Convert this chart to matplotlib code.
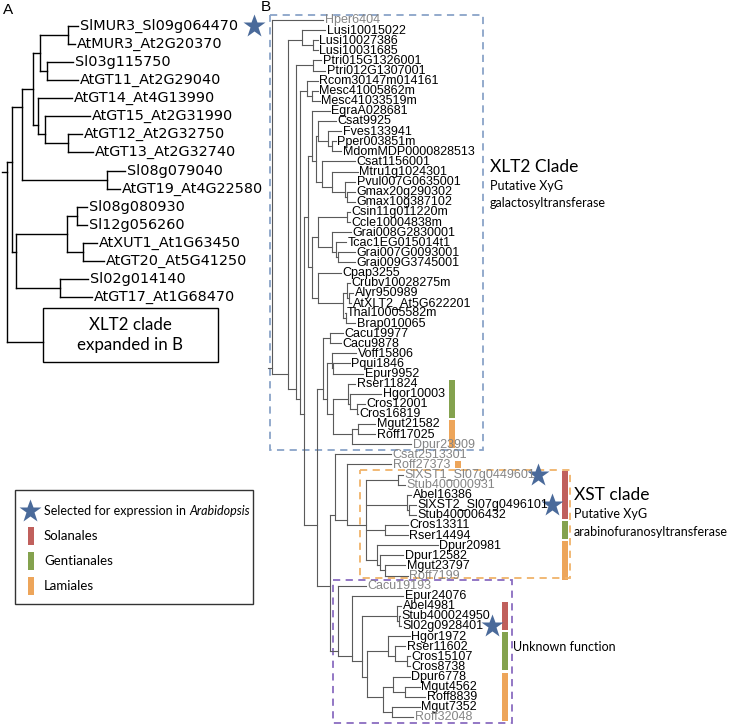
import re
import matplotlib.pyplot as plt
from matplotlib.patches import Rectangle

# ---- panel A tree (number after ':' = node depth in px from the left) ----
tree_a = ("((((((SlMUR3_Sl09g064470:78,AtMUR3_At2G20370:75):68,"
          "(Sl03g115750:73,AtGT11_At2G29040:78):47):40,"
          "(AtGT14_At4G13990:72,(AtGT15_At2G31990:90,"
          "(AtGT12_At2G32750:82,AtGT13_At2G32740:93):68):45):38):33,"
          "(Sl08g079040:125,AtGT19_At4G22580:120):107):22,"
          "(((Sl08g080930:87,Sl12g056260:87):77,"
          "(AtXUT1_At1G63450:97,AtGT20_At5G41250:104):83):67,"
          "(Sl02g014140:88,AtGT17_At1G68470:92):60):16):12,"
          "BOX:43):7")

# ---- panel B tree, built clade by clade ----
b_lusi = "(Lusi10015022:325,(Lusi10027386:318,Lusi10031685:318):313):302"
b_ptri = "(Ptri015G1326001:321,Ptri012G1307001:325):313"
b_rm = "(Rcom30147m014161:318,(Mesc41005862m:318,Mesc41033519m:320):312):307"
b_cr = "(Csat9925:336,(Fves133941:341,(Pper003851m:336,MdomMDP0000828513:341):332):328):318"
b_fb = ("(Csat1156001:355,(Mtru1g1024301:358,(Pvul007G0635001:355,"
        "(Gmax20g290302:355,Gmax10g387102:355):347):345):332):322")
b_malv = ("((Csin11g011220m:350,Ccle10004838m:350):347,(Grai008G2830001:351,"
          "(Tcac1EG015014t1:346,(Grai007G0093001:355,Grai009G3745001:355):338):336):332):318")
b_bras = ("(Cpap3255:341,((Crubv10028275m:350,(Alyr950989:353,AtXLT2_At5G622201:351):349):347,"
          "(Thal10005582m:345,Brap010065:355):346):343):318")
b_ast = ("((Cacu19977:343,Cacu9878:341):330,((Voff15806:356,(Pqui1846:350,Epur9952:363):333):332,"
         "((Rser11824:355,(Hgor10003:381,(Cros12001:365,Cros16819:358):357):350):348,"
         "((Mgut21582:375,Roff17025:375):358,Dpur23909:411):352):333):327):323")
b_xst = ("(Csat2513301:391,(Roff27373:391,((SlXST1_Sl07g0449601:403,Stub400000931:405):398,"
         "(Abel16386:411,(SlXST2_Sl07g0496101:416,Stub400006432:416):409):407,"
         "(Cros13311:408,Rser14494:408):385,"
         "(Dpur20981:438,(Dpur12582:403,(Mgut23797:405,Roff7199:408):385):380):377):366):347):335")
b_unk = ("(Cacu19193:366,(Epur24076:403,((Abel4981:401,(Stub400024950:400,Sl02g0928401:401):399):397,"
         "((Hgor1972:410,(Rser11602:405,(Cros15107:410,Cros8738:410):407):395):388,"
         "((Dpur6778:410,(Mgut4562:420,Roff8839:425):405):393,(Mgut7352:420,Roff32048:413):392):383):367):362):352):338")
tree_b = (f"(Hper6404:323,({b_lusi},({b_ptri},({b_rm},(((EgraA028681:330,({b_cr},{b_fb}):316):312,"
          f"({b_malv},{b_bras}):312):308,({b_ast},({b_xst},{b_unk}):330):317):304):300):296):288):272")

grey_b = ["Hper6404", "Dpur23909", "Csat2513301", "Roff27373", "SlXST1_Sl07g0449601",
          "Stub400000931", "Roff7199", "Cacu19193", "Roff32048"]

# order bars: (first leaf, last leaf, order, x)
bars_b = [("Rser11824", "Cros16819", "Gentianales", 449),
          ("Mgut21582", "Dpur23909", "Lamiales", 449),
          ("SlXST1_Sl07g0449601", "Stub400006432", "Solanales", 562),
          ("Cros13311", "Rser14494", "Gentianales", 562),
          ("Dpur20981", "Roff7199", "Lamiales", 562),
          ("Abel4981", "Sl02g0928401", "Solanales", 502),
          ("Hgor1972", "Cros8738", "Gentianales", 502),
          ("Dpur6778", "Roff32048", "Lamiales", 502)]
order_colors = {"Solanales": "#c0605c", "Gentianales": "#84a24e", "Lamiales": "#eda55a"}

# stars: (leaf, x)
stars_a = [("SlMUR3_Sl09g064470", 254)]
stars_b = [("SlXST1_Sl07g0449601", 538), ("SlXST2_Sl07g0496101", 552), ("Sl02g0928401", 492)]
star_color = "#4a6a9a"


def parse(s):
    pos = 0

    def node():
        nonlocal pos
        kids = []
        if s[pos] == "(":
            pos += 1
            kids.append(node())
            while s[pos] == ",":
                pos += 1
                kids.append(node())
            pos += 1
        m = re.match(r"([^:,()]*)(?::([\d.]+))?", s[pos:])
        pos += m.end()
        return {"name": m.group(1), "x": float(m.group(2) or 0), "kids": kids}

    return node()


def layout(nd, rows, it):
    if not nd["kids"]:
        nd["y"] = rows[next(it)]
        nd["n"], nd["s"] = 1, nd["y"]
    else:
        for k in nd["kids"]:
            layout(k, rows, it)
        nd["n"] = sum(k["n"] for k in nd["kids"])
        nd["s"] = sum(k["s"] for k in nd["kids"])
        nd["y"] = nd["s"] / nd["n"]


def draw(ax, nd, leaves, **kw):
    if not nd["kids"]:
        leaves[nd["name"]] = nd
        return
    ys = [k["y"] for k in nd["kids"]]
    ax.plot([nd["x"]] * 2, [min(ys), max(ys)], **kw)
    for k in nd["kids"]:
        ax.plot([nd["x"], k["x"]], [k["y"]] * 2, **kw)
        draw(ax, k, leaves, **kw)


fig = plt.figure(figsize=(7.3, 7.26), dpi=100)
ax = fig.add_axes([0, 0, 1, 1])
ax.set_xlim(0, 730)
ax.set_ylim(726, 0)
ax.axis("off")

calib = "Lato"

# panel A
ta = parse(tree_a)
rows_a = [26 + 18.07 * i for i in range(16)] + [342]
layout(ta, rows_a, iter(range(17)))
leaves_a = {}
kw_a = dict(color="black", lw=1.0, solid_capstyle="projecting")
ax.plot([ta["x"] - 5, ta["x"]], [ta["y"]] * 2, **kw_a)
draw(ax, ta, leaves_a, **kw_a)
for name, nd in leaves_a.items():
    if name == "BOX":
        ax.add_patch(Rectangle((nd["x"], 308), 175, 54, fill=False, ec="black", lw=1.0))
        ax.text(nd["x"] + 87, 335, "XLT2 clade\nexpanded in B", ha="center", va="center",
                fontsize=12.2, family=calib, linespacing=1.35)
    else:
        ax.text(nd["x"] + 2, nd["y"], name, ha="left", va="center", fontsize=10.4,
                family="DejaVu Sans")
for name, x in stars_a:
    ax.plot(x, leaves_a[name]["y"], marker="*", ms=17, color=star_color, mec="none")

# panel B
tb = parse(tree_b)
rows_b = [20 + 10.1 * i for i in range(70)]
layout(tb, rows_b, iter(range(70)))
leaves_b = {}
kw_b = dict(color="#5a5a5a", lw=0.8)
ax.plot([tb["x"] - 4, tb["x"]], [tb["y"]] * 2, **kw_b)
draw(ax, tb, leaves_b, **kw_b)
for name, nd in leaves_b.items():
    ax.text(nd["x"] + 1.5, nd["y"] + 0.5, name, ha="left", va="center", fontsize=9,
            family="Liberation Sans", color="#858585" if name in grey_b else "black")
for name, x in stars_b:
    ax.plot(x, leaves_b[name]["y"], marker="*", ms=17, color=star_color, mec="none")
for first, last, order, x in bars_b:
    y0 = leaves_b[first]["y"] - 4
    y1 = leaves_b[last]["y"] + 4
    ax.add_patch(Rectangle((x, y0), 6, y1 - y0, color=order_colors[order], lw=0))
ry = leaves_b["Roff27373"]["y"]
ax.add_patch(Rectangle((455, ry - 3.5), 6, 7, color=order_colors["Lamiales"], lw=0))

# dashed clade boxes
for (x0, y0, x1, y1), c in [((270, 15, 483, 450), "#8aa4c8"),
                            ((360, 470, 570, 578), "#f0b36a"),
                            ((333, 580, 512, 723), "#8a6cc0")]:
    ax.add_patch(Rectangle((x0, y0), x1 - x0, y1 - y0, fill=False, ec=c, lw=1.3,
                           ls=(0, (4, 3))))

# clade annotations
ax.text(490, 167, "XLT2 Clade", fontsize=12.5, family=calib, va="center")
ax.text(490, 186, "Putative XyG", fontsize=9, family=calib, va="center")
ax.text(490, 203, "galactosyltransferase", fontsize=9, family=calib, va="center")
ax.text(574, 495, "XST clade", fontsize=12.5, family=calib, va="center")
ax.text(574, 514, "Putative XyG", fontsize=9, family=calib, va="center")
ax.text(574, 532, "arabinofuranosyltransferase", fontsize=9, family=calib, va="center")
ax.text(513, 647, "Unknown function", fontsize=9, family=calib, va="center")

ax.text(3, 10, "A", fontsize=11, family="Liberation Sans", va="center")
ax.text(261, 7, "B", fontsize=11, family="Liberation Sans", va="center")

# legend
ax.add_patch(Rectangle((15, 490), 238, 114, fill=False, ec="#333333", lw=1.0))
ax.plot(30, 511, marker="*", ms=17, color=star_color, mec="none")
t1 = ax.text(44, 511, "Selected for expression in ", fontsize=9, family=calib, va="center")
ax.annotate("Arabidopsis", xy=(1, 0), xycoords=t1, va="bottom", ha="left",
            fontsize=9, family=calib, style="italic")
for i, order in enumerate(["Solanales", "Gentianales", "Lamiales"]):
    y = 536 + 25 * i
    ax.add_patch(Rectangle((28, y - 9), 6, 18, color=order_colors[order], lw=0))
    ax.text(44, y, order, fontsize=9.5, family=calib, va="center")

fig.savefig("out.png", dpi=100)
